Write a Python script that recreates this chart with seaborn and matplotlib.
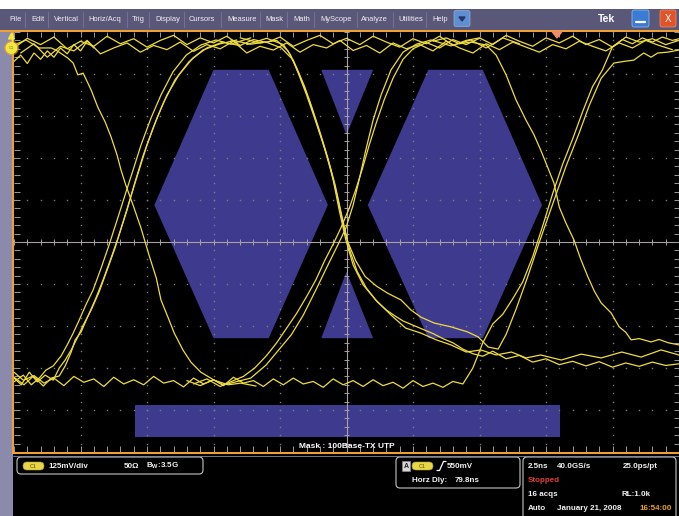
import numpy as np
import pandas as pd
import matplotlib
matplotlib.use("Agg")
import matplotlib.pyplot as plt
from matplotlib.patches import Rectangle, FancyBboxPatch, Polygon, Circle
import seaborn as sns

# ------------------------------------------------------------------
# DATA  (horizontal: divisions of 2.5 ns, vertical: divisions of 125 mV)
# ------------------------------------------------------------------
menu_items = ["File", "Edit", "Vertical", "Horiz/Acq", "Trig", "Display", "Cursors",
              "Measure", "Mask", "Math", "MyScope", "Analyze", "Utilities", "Help"]

mask_left_eye = [(-2.89, 0.88), (-2.0, 4.10), (-1.17, 4.10), (-0.28, 0.88), (-1.17, -2.29), (-2.0, -2.29)]
mask_right_eye = [(0.32, 0.88), (1.23, 4.10), (2.05, 4.10), (2.94, 0.88), (2.05, -2.29), (1.23, -2.29)]
mask_top_triangle = [(-0.38, 4.10), (0.40, 4.10), (0.0, 2.55)]
mask_bottom_triangle = [(0.0, -0.71), (0.40, -2.29), (-0.38, -2.29)]
mask_bottom_bar = [(-3.18, -3.88), (3.21, -3.88), (3.21, -4.64), (-3.18, -4.64)]

trace_top_1 = [(-5.0, 4.62), (-4.8, 4.85), (-4.6, 4.70), (-4.4, 4.88), (-4.2, 4.60), (-4.0, 4.78), (-3.8, 4.66),
               (-3.6, 4.90), (-3.4, 4.72), (-3.2, 4.84), (-3.0, 4.64), (-2.8, 4.80), (-2.6, 4.92), (-2.4, 4.70),
               (-2.2, 4.86), (-2.0, 4.74), (-1.8, 4.90), (-1.6, 4.68), (-1.4, 4.82), (-1.2, 4.75), (-1.0, 4.88),
               (-0.8, 4.66), (-0.6, 4.80), (-0.4, 4.92), (-0.2, 4.72), (0.0, 4.85), (0.2, 4.70), (0.4, 4.90),
               (0.6, 4.76), (0.8, 4.64), (1.0, 4.84), (1.2, 4.72), (1.4, 4.90), (1.6, 4.68), (1.8, 4.80),
               (2.0, 4.86), (2.2, 4.70), (2.4, 4.92), (2.6, 4.78), (2.8, 4.66), (3.0, 4.86), (3.2, 4.74),
               (3.4, 4.90), (3.6, 4.70), (3.8, 4.82), (4.0, 4.64), (4.2, 4.88), (4.4, 4.76), (4.6, 4.84),
               (4.8, 4.70), (5.0, 4.80)]
trace_top_2 = [(-4.9, 4.50), (-4.7, 4.72), (-4.5, 4.40), (-4.3, 4.66), (-4.1, 4.55), (-3.9, 4.80), (-3.7, 4.48),
               (-3.5, 4.62), (-3.3, 4.74), (-3.1, 4.52), (-2.9, 4.68), (-2.7, 4.58), (-2.5, 4.76), (-2.3, 4.54),
               (-2.1, 4.70), (-1.9, 4.60), (-1.7, 4.78), (-1.5, 4.50), (-1.3, 4.66), (-1.1, 4.57), (-0.9, 4.74),
               (-0.7, 4.52), (-0.5, 4.70), (-0.3, 4.62), (-0.1, 4.80), (0.1, 4.56), (0.3, 4.68), (0.5, 4.50),
               (0.7, 4.74), (0.9, 4.60), (1.1, 4.70), (1.3, 4.55), (1.5, 4.78), (1.7, 4.62), (1.9, 4.50),
               (2.1, 4.72), (2.3, 4.58), (2.5, 4.76), (2.7, 4.64), (2.9, 4.52), (3.1, 4.70), (3.3, 4.60),
               (3.5, 4.78), (3.7, 4.66), (3.9, 4.55), (4.1, 4.74), (4.3, 4.62), (4.5, 4.80), (4.7, 4.68),
               (4.9, 4.58)]
trace_top_3 = [(-5.0, 4.30), (-4.9, 4.45), (-4.8, 4.25), (-4.7, 4.50), (-4.6, 4.35), (-4.5, 4.55), (-4.4, 4.40),
               (-4.3, 4.62), (-4.2, 4.48), (-4.1, 4.70), (-4.0, 4.55), (-3.9, 4.78), (-3.8, 4.62)]

trace_left_fall = [(-5.0, 4.69), (-4.82, 4.81), (-4.62, 4.62), (-4.44, 4.62), (-4.37, 4.57), (-4.19, 4.38),
                   (-4.11, 4.26), (-4.04, 3.98), (-3.96, 4.02), (-3.84, 3.62), (-3.74, 3.21), (-3.63, 2.86),
                   (-3.54, 2.50), (-3.45, 2.07), (-3.39, 1.71), (-3.32, 1.36), (-3.21, 0.88), (-3.09, 0.33),
                   (-2.97, -0.31), (-2.86, -0.86), (-2.79, -1.38), (-2.68, -1.81), (-2.59, -2.17), (-2.46, -2.57),
                   (-2.34, -2.86), (-2.19, -3.10), (-1.99, -3.29), (-1.78, -3.40), (-1.59, -3.36), (-1.36, -3.43)]

trace_left_rise_1 = [(-5.0, -3.33), (-4.86, -3.17), (-4.74, -3.40), (-4.62, -3.24), (-4.52, -3.05), (-4.41, -2.95),
                     (-4.29, -2.71), (-4.20, -2.45), (-4.11, -2.17), (-4.02, -1.86), (-3.92, -1.50), (-3.81, -1.14),
                     (-3.69, -0.62), (-3.57, -0.07), (-3.45, 0.52), (-3.33, 1.12), (-3.21, 1.71), (-3.09, 2.31),
                     (-2.94, 2.95), (-2.79, 3.50), (-2.61, 4.05), (-2.41, 4.45), (-2.19, 4.69), (-1.96, 4.81),
                     (-1.74, 4.71), (-1.44, 4.86)]
trace_left_rise_2 = [(-5.0, -3.24), (-4.89, -3.40), (-4.77, -3.10), (-4.65, -3.33), (-4.53, -3.17), (-4.41, -3.29),
                     (-4.32, -3.00), (-4.23, -2.81), (-4.14, -2.57), (-4.05, -2.29), (-3.96, -1.98), (-3.84, -1.62),
                     (-3.72, -1.19), (-3.60, -0.67), (-3.48, -0.14), (-3.36, 0.48), (-3.24, 1.10), (-3.12, 1.71),
                     (-3.00, 2.31), (-2.85, 2.95), (-2.70, 3.50), (-2.52, 3.98), (-2.31, 4.38), (-2.10, 4.62),
                     (-1.86, 4.76), (-1.59, 4.67)]
trace_left_rise_3 = [(-5.0, -3.10), (-4.86, -3.29), (-4.71, -3.19), (-4.56, -3.43), (-4.44, -3.24), (-4.32, -3.19),
                     (-4.23, -2.95), (-4.14, -2.62), (-4.08, -2.33), (-3.99, -2.14), (-3.90, -1.81), (-3.78, -1.38),
                     (-3.66, -0.90), (-3.54, -0.38), (-3.42, 0.17), (-3.30, 0.76), (-3.18, 1.43), (-3.06, 2.05),
                     (-2.91, 2.71), (-2.76, 3.29), (-2.58, 3.86), (-2.37, 4.29), (-2.16, 4.57), (-1.92, 4.71),
                     (-1.65, 4.81)]

trace_bottom = [(-5.0, -3.22), (-4.85, -3.40), (-4.7, -3.18), (-4.55, -3.36), (-4.4, -3.24), (-4.25, -3.42),
                (-4.1, -3.20), (-3.95, -3.34), (-3.8, -3.26), (-3.65, -3.44), (-3.5, -3.22), (-3.35, -3.38),
                (-3.2, -3.28), (-3.05, -3.40), (-2.9, -3.20), (-2.75, -3.36), (-2.6, -3.30), (-2.45, -3.45),
                (-2.3, -3.24), (-2.15, -3.38), (-2.0, -3.28), (-1.85, -3.42), (-1.7, -3.22), (-1.55, -3.36),
                (-1.4, -3.30), (-1.25, -3.44), (-1.1, -3.26), (-0.95, -3.40), (-0.8, -3.24), (-0.65, -3.38),
                (-0.5, -3.32), (-0.35, -3.46), (-0.2, -3.26), (-0.05, -3.40), (0.1, -3.30), (0.25, -3.44),
                (0.4, -3.28), (0.55, -3.42), (0.7, -3.34), (0.85, -3.48), (1.0, -3.30), (1.15, -3.44),
                (1.3, -3.36), (1.45, -3.46), (1.6, -3.32), (1.75, -3.38), (1.9, -3.0), (2.05, -2.4),
                (2.2, -1.95), (2.35, -1.72), (2.5, -1.35), (2.65, -0.95), (2.8, -0.35), (2.95, 0.38),
                (3.1, 1.15), (3.25, 1.85), (3.4, 2.45), (3.55, 3.1), (3.7, 3.7), (3.85, 4.1), (4.0, 4.65),
                (4.15, 4.82), (4.3, 4.72), (4.45, 4.86), (4.6, 4.76), (4.75, 4.88), (4.9, 4.8), (5.0, 4.84)]

trace_center_fall_1 = [(-1.74, 4.81), (-1.44, 4.71), (-1.21, 4.76), (-0.98, 4.62), (-0.80, 4.33), (-0.68, 3.86),
                       (-0.56, 3.38), (-0.44, 2.79), (-0.32, 2.19), (-0.20, 1.48), (-0.11, 0.76), (-0.01, 0.05),
                       (0.10, -0.55), (0.25, -1.02), (0.44, -1.38), (0.67, -1.74), (0.89, -2.05), (1.12, -2.17),
                       (1.35, -2.33), (1.57, -2.45), (1.80, -2.62), (2.02, -2.57), (2.25, -2.69), (2.48, -2.62),
                       (2.70, -2.76), (2.92, -2.69), (3.23, -2.81), (3.53, -2.67), (3.83, -2.76), (4.14, -2.62),
                       (4.43, -2.74), (4.73, -2.57), (5.0, -2.69)]
trace_center_fall_2 = [(-1.60, 4.86), (-1.30, 4.74), (-1.05, 4.80), (-0.88, 4.55), (-0.75, 4.15), (-0.63, 3.70),
                       (-0.52, 3.20), (-0.40, 2.62), (-0.28, 2.00), (-0.17, 1.35), (-0.07, 0.62), (0.02, 0.0),
                       (0.14, -0.45), (0.28, -0.82), (0.45, -1.05), (0.62, -1.22), (0.82, -1.38), (0.97, -1.62),
                       (1.12, -1.79), (1.32, -1.93), (1.57, -2.02), (1.82, -2.14), (1.98, -2.26), (2.13, -2.50),
                       (2.28, -2.55), (2.40, -2.20), (2.55, -1.60), (2.72, -0.85), (2.90, 0.0), (3.10, 0.9),
                       (3.30, 1.8), (3.50, 2.6), (3.65, 3.25), (3.83, 3.9), (4.02, 4.26), (4.17, 4.30), (4.32, 4.33),
                       (4.47, 4.50), (4.58, 4.40), (4.68, 4.50), (4.83, 4.52), (5.0, 4.57)]
trace_center_fall_3 = [(-1.5, 4.70), (-1.2, 4.85), (-0.95, 4.70), (-0.84, 4.45), (-0.72, 4.0), (-0.60, 3.5),
                       (-0.48, 2.95), (-0.36, 2.38), (-0.24, 1.75), (-0.14, 1.10), (-0.04, 0.35), (0.06, -0.25),
                       (0.16, -0.70), (0.30, -1.10), (0.46, -1.42), (0.60, -1.62), (0.72, -1.75), (0.85, -1.88),
                       (1.00, -1.98), (1.15, -2.08), (1.30, -2.18), (1.45, -2.30), (1.60, -2.40), (1.75, -2.55),
                       (1.90, -2.66), (2.05, -2.72), (2.20, -2.60), (2.40, -2.78), (2.60, -2.70), (2.80, -2.86),
                       (3.00, -2.78), (3.20, -2.92), (3.40, -2.84), (3.60, -2.95), (3.80, -2.85), (4.00, -2.98),
                       (4.20, -2.88), (4.40, -2.96), (4.60, -2.86), (4.80, -2.94), (5.0, -2.90)]

trace_center_rise_1 = [(-2.4, -3.30), (-2.2, -3.42), (-2.0, -3.28), (-1.85, -3.40), (-1.74, -3.36), (-1.44, -3.24),
                       (-1.21, -2.93), (-1.02, -2.57), (-0.83, -2.21), (-0.65, -1.74), (-0.46, -1.14), (-0.28, -0.55),
                       (-0.13, -0.07), (-0.01, 0.33), (0.10, 0.88), (0.19, 1.48), (0.29, 2.19), (0.40, 2.90),
                       (0.52, 3.50), (0.67, 4.10), (0.85, 4.52), (1.05, 4.71), (1.27, 4.81), (1.57, 4.67),
                       (1.87, 4.81), (2.1, 4.62), (2.35, 4.86), (2.6, 4.72)]
trace_center_rise_2 = [(-2.3, -3.38), (-2.1, -3.26), (-1.9, -3.44), (-1.7, -3.30), (-1.55, -3.20), (-1.38, -3.00),
                       (-1.20, -2.70), (-1.05, -2.40), (-0.90, -2.05), (-0.75, -1.70), (-0.60, -1.30), (-0.46, -0.90),
                       (-0.33, -0.45), (-0.20, -0.05), (-0.08, 0.35), (0.04, 0.80), (0.14, 1.25), (0.24, 1.75),
                       (0.34, 2.30), (0.45, 2.85), (0.57, 3.40), (0.70, 3.90), (0.85, 4.35), (1.0, 4.60),
                       (1.2, 4.75), (1.4, 4.62), (1.6, 4.82), (1.8, 4.70), (2.0, 4.85)]

trace_right_fall = [(1.3, 4.78), (1.5, 4.86), (1.70, 4.72), (1.87, 4.76), (2.10, 4.69), (2.25, 4.45), (2.40, 3.98),
                    (2.55, 3.38), (2.70, 2.90), (2.82, 2.55), (2.92, 2.19), (3.02, 1.80), (3.12, 1.40), (3.20, 0.83),
                    (3.30, 0.45), (3.42, 0.05), (3.52, -0.40), (3.63, -0.83), (3.73, -1.18), (3.83, -1.45),
                    (3.98, -1.69), (4.10, -2.02), (4.20, -2.15), (4.28, -2.33), (4.40, -2.30), (4.58, -2.38),
                    (4.70, -2.32), (4.84, -2.40), (5.0, -2.45)]

traces = {
    "top1": trace_top_1, "top2": trace_top_2, "top3": trace_top_3,
    "left_fall": trace_left_fall, "left_rise1": trace_left_rise_1, "left_rise2": trace_left_rise_2,
    "left_rise3": trace_left_rise_3, "bottom": trace_bottom,
    "cfall1": trace_center_fall_1, "cfall2": trace_center_fall_2, "cfall3": trace_center_fall_3,
    "crise1": trace_center_rise_1, "crise2": trace_center_rise_2, "rfall": trace_right_fall,
}

# ------------------------------------------------------------------
W, H = 679, 516
YEL = "#efdc40"
ORANGE = "#f0a030"
MASK = "#3e3b8f"
TXT = "#f2f2f2"
FONT = "Liberation Sans"

sns.set_style("dark")
plt.rcParams["font.family"] = [FONT, "DejaVu Sans"]
plt.rcParams["mathtext.fontset"] = "custom"
plt.rcParams["mathtext.rm"] = FONT
plt.rcParams["mathtext.bf"] = FONT + ":bold"

fig = plt.figure(figsize=(W / 100, H / 100), dpi=100)
fig.patch.set_facecolor("white")

# ---------------- background / chrome axes ----------------
bg = fig.add_axes([0, 0, 1, 1], zorder=0)
bg.set_xlim(0, W); bg.set_ylim(H, 0); bg.axis("off")
bg.add_patch(Rectangle((0, 9), W, 21, color="#5a5878", lw=0))
bg.add_patch(Rectangle((0, 30), 13, H - 30, color="#8b8aab", lw=0))
bg.add_patch(Rectangle((13, 30), W - 13, H - 30, color="black", lw=0))
bg.plot([13, W], [455.5, 455.5], color="#8a8aa0", lw=0.6)

# menu
menu_x = [9, 31, 54, 88, 132, 155, 189, 227, 265, 293, 320, 361, 398, 432]
seps = [25, 48, 83, 127, 149, 184, 221, 260, 287, 314, 357, 393, 426]
for mx, s in zip(menu_x, menu_items):
    bg.text(mx, 19.5, s, color=TXT, fontsize=5.4, va="center", ha="left")
for sx in seps:
    bg.plot([sx, sx], [12, 27], color="#7a789a", lw=0.6)
bg.add_patch(FancyBboxPatch((454, 10.5), 16, 16, boxstyle="round,pad=0,rounding_size=2",
                            fc="#5f8fd0", ec="#8fb0e0", lw=0.5))
bg.add_patch(Polygon([(459, 17), (465, 17), (462, 21)], closed=True, color="#26346a"))
bg.text(607, 19, "Tek", color="white", fontsize=7.5, fontweight="bold", ha="center", va="center")
bg.add_patch(FancyBboxPatch((632, 10), 17, 17, boxstyle="round,pad=0,rounding_size=2",
                            fc="#3a7bd5", ec="#9cc0f0", lw=0.5))
bg.plot([636, 645], [22, 22], color="white", lw=1.6)
bg.add_patch(FancyBboxPatch((660, 10), 16, 17, boxstyle="round,pad=0,rounding_size=2",
                            fc="#e0542a", ec="#f09070", lw=0.5))
bg.text(668, 18.7, "X", color="white", fontsize=7, ha="center", va="center")

# status panels
def panel(x, y, w, h):
    bg.add_patch(FancyBboxPatch((x, y), w, h, boxstyle="round,pad=0,rounding_size=4",
                                fill=False, ec="#c4c4c4", lw=0.8))

def pill(x, y):
    bg.add_patch(FancyBboxPatch((x, y), 21, 8, boxstyle="round,pad=0,rounding_size=4",
                                fc="#e6d648", ec="#b0a030", lw=0.4))
    bg.text(x + 10.5, y + 4.2, "C1", color="#5a5000", fontsize=4, ha="center", va="center")

def stxt(x, y, s, color=TXT, **kw):
    bg.text(x, y, s, color=color, fontsize=5.8, fontweight="bold", ha="left", va="center", **kw)

panel(17, 457, 186, 17)
pill(23, 462)
stxt(48, 466, "125mV/div")
stxt(124, 466, "50Ω")
stxt(146, 466, r"B$_{\mathbf{W}}$:3.5G")

panel(396, 457, 124, 31)
bg.add_patch(Rectangle((402, 461), 8, 10, fc="#d8d8d8", ec="#909090", lw=0.4))
bg.text(406, 466, "A", color="#202020", fontsize=5, fontweight="bold", ha="center", va="center")
pill(412, 462)
bg.plot([437, 439.5, 443.5, 446], [470.5, 470.5, 461.5, 461.5], color="white", lw=0.9)
stxt(447, 466, "550mV")
stxt(412, 481, "Horz Dly:")
stxt(455, 481, "79.8ns")

panel(523, 457, 153, 70)
stxt(528, 466, "2.5ns")
stxt(557, 466, "40.0GS/s")
stxt(623, 466, "25.0ps/pt")
stxt(528, 481, "Stopped", color="#e03c3c")
stxt(528, 494, "16 acqs")
stxt(622, 494, "RL:1.0k")
stxt(528, 508, "Auto")
stxt(557, 508, "January 21, 2008")
stxt(639, 508, "16:54:00", color="#f0a020")

# ---------------- graticule axes ----------------
ax = fig.add_axes([14 / W, (H - 452) / H, 665 / W, 420 / H], zorder=1)
ax.set_facecolor("black")

for poly in (mask_left_eye, mask_right_eye, mask_top_triangle, mask_bottom_triangle, mask_bottom_bar):
    ax.add_patch(Polygon(poly, closed=True, fc=MASK, ec="none", zorder=1))

# dotted graticule
dots = np.round(np.arange(-5, 5.001, 0.2), 3)
gcol = "#7c7c7c"
for k in range(-4, 5):
    if k == 0:
        continue
    ax.plot(np.full_like(dots, k), dots, ls="none", marker="s", ms=1.0, mew=0, color=gcol, zorder=2)
    ax.plot(dots, np.full_like(dots, k), ls="none", marker="s", ms=1.0, mew=0, color=gcol, zorder=2)
ccol = "#aaa0a0"
ax.axhline(0, color=ccol, lw=0.8, zorder=2)
ax.axvline(0, color=ccol, lw=0.8, zorder=2)
ax.vlines(dots, -0.07, 0.07, color=ccol, lw=0.7, zorder=2)
ax.hlines(dots, -0.045, 0.045, color=ccol, lw=0.7, zorder=2)
ecol = "#9a9a9a"
ax.hlines(dots, -5, -4.91, color=ecol, lw=0.7, zorder=2)
ax.hlines(dots, 4.93, 5, color=ecol, lw=0.7, zorder=2)
ax.vlines(dots, -5, -4.86, color=ecol, lw=0.7, zorder=2)
ax.vlines(dots, 4.88, 5, color=ecol, lw=0.7, zorder=2)

# traces
rows = []
for name, pts in traces.items():
    for i, (t, v) in enumerate(pts):
        rows.append({"trace": name, "i": i, "t": t, "v": v})
df = pd.DataFrame(rows)
sns.lineplot(data=df, x="t", y="v", units="trace", estimator=None, sort=False,
             color=YEL, linewidth=0.9, ax=ax, legend=False, zorder=3)

ax.text(0, -4.86, "Mask : 100Base-TX UTP", color="white", fontsize=6, fontweight="bold",
        ha="center", va="center", zorder=5)

ax.set_xlim(-5, 5); ax.set_ylim(-5, 5)
ax.set_xlabel(""); ax.set_ylabel("")
ax.set_xticks([]); ax.set_yticks([])
for sp in ax.spines.values():
    sp.set_visible(False)

# ---------------- foreground chrome ----------------
fg = fig.add_axes([0, 0, 1, 1], zorder=2)
fg.set_xlim(0, W); fg.set_ylim(H, 0); fg.axis("off"); fg.patch.set_alpha(0)
fg.add_patch(Rectangle((0, 29.5), W, 2, color=ORANGE, lw=0))
fg.add_patch(Rectangle((12.3, 30), 1.9, 424, color=ORANGE, lw=0))
fg.add_patch(Rectangle((12.3, 452), W, 2.2, color=ORANGE, lw=0))
fg.add_patch(Circle((11.5, 48), 7.5, fc=ORANGE, ec="none", alpha=0.6))
fg.add_patch(Circle((11.5, 48), 6, fc="#f2e640", ec="none"))
fg.text(11.5, 48, "C1", color="#8a7a00", fontsize=3, ha="center", va="center")
fg.add_patch(Polygon([(8.5, 39), (14.5, 39), (11.5, 33)], closed=True, color="#f2e640"))
fg.plot([11.5, 11.5], [38, 41], color="#f2e640", lw=1)
fg.add_patch(Polygon([(552, 31.5), (562, 31.5), (557, 38)], closed=True, color="#f08a6a"))

fig.savefig("out.png", dpi=100, facecolor=fig.get_facecolor())
